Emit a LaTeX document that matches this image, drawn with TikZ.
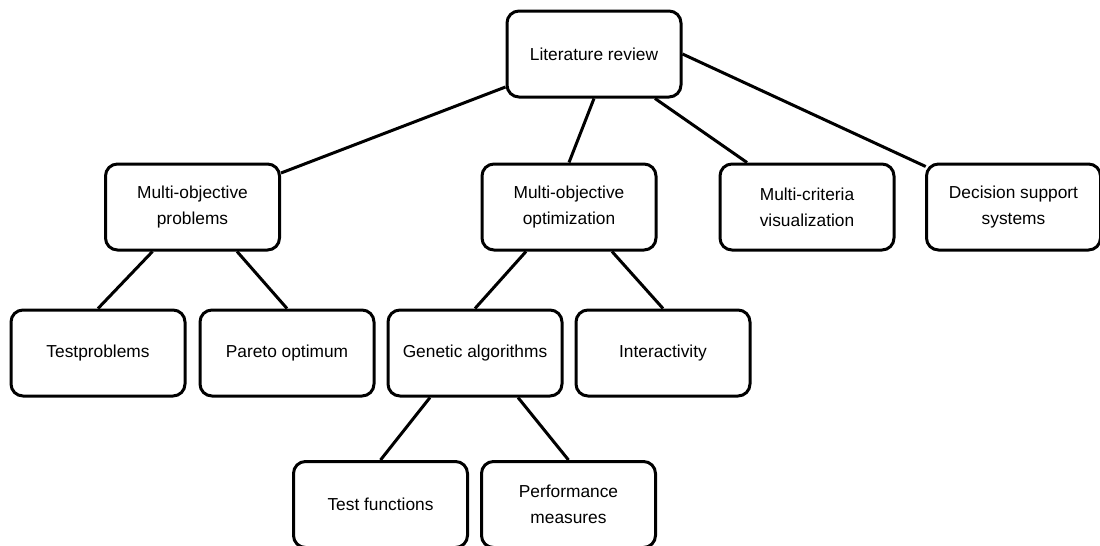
\documentclass[tikz,border=0pt]{standalone}
\usepackage{fontspec}
\setmainfont{Liberation Sans}
\begin{document}
\begin{tikzpicture}[x=0.75pt,y=-0.75pt,
  topic/.style={draw=black, line width=2.25pt, rounded corners=9pt, fill=white,
    minimum width=130.5pt, minimum height=64.5pt, inner sep=2pt, align=center,
    font=\fontsize{13}{19.5}\selectfont},
  link/.style={draw=black, line width=2.25pt}]
\useasboundingbox (0,0) rectangle (1100,546);
\fill[white] (0,0) rectangle (1100,546);
\clip (0,0) rectangle (1100,546);

% top level
\node[topic] (lit) at (594,54) {Literature review};

% second level
\node[topic] (mop) at (192.5,207) {Multi-objective\\problems};
\node[topic] (moo) at (569,207) {Multi-objective\\optimization};
\node[topic] (mcv) at (807,207) {Multi-criteria\\visualization};
\node[topic] (dss) at (1013.5,207) {Decision support\\systems};

% third level
\node[topic] (test) at (98,353) {Testproblems};
\node[topic] (pareto) at (287,353) {Pareto optimum};
\node[topic] (ga) at (475,353) {Genetic algorithms};
\node[topic] (int) at (663,353) {Interactivity};

% fourth level
\node[topic] (tf) at (380.5,504.5) {Test functions};
\node[topic] (pm) at (568.5,504.5) {Performance\\measures};

% connectors
\draw[link] ([yshift=-24.75pt]lit.west) -- ([yshift=25.5pt]mop.east);
\draw[link] (lit.south) -- (moo.north);
\draw[link] ([xshift=45.75pt]lit.south) -- ([xshift=-45pt]mcv.north);
\draw[link] (lit.east) -- ([xshift=0.5pt,yshift=-3pt]dss.north west);

\draw[link] ([xshift=-30pt]mop.south) -- (test.north);
\draw[link] ([xshift=33.4pt]mop.south) -- (pareto.north);

\draw[link] ([xshift=-32.25pt]moo.south) -- (ga.north);
\draw[link] ([xshift=32.25pt]moo.south) -- (int.north);

\draw[link] ([xshift=-33.75pt]ga.south) -- (tf.north);
\draw[link] ([xshift=32.25pt]ga.south) -- (pm.north);
\end{tikzpicture}
\end{document}
